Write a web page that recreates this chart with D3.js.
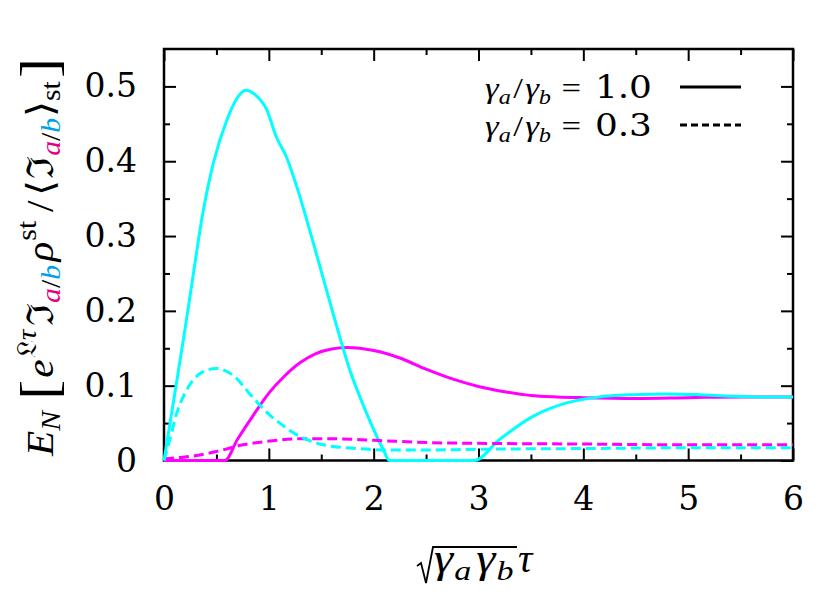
<!DOCTYPE html>
<html>
<head>
<meta charset="utf-8">
<script src="https://cdn.jsdelivr.net/npm/d3@7"></script>
<style>
  body { margin: 0; background: #fff; }
</style>
</head>
<body>
<script>
// Données
const xTicks = [0, 1, 2, 3, 4, 5, 6];
const yTicks = [0, 0.1, 0.2, 0.3, 0.4, 0.5];

// gamma_a/gamma_b = 1.0, sous-système b (cyan)
const bSolidX = [0, 0.1, 0.2, 0.27, 0.37, 0.47, 0.6, 0.7, 0.78, 0.86, 0.98, 1.07, 1.17, 1.28, 1.45, 1.61, 1.77, 1.93, 2.09, 2.15, 2.5, 2.96, 3.2, 3.52, 3.84, 4.15, 4.47, 4.79, 5.1, 5.42, 5.75, 6];
const bSolidY = [0, 0.087, 0.175, 0.24, 0.33, 0.397, 0.455, 0.485, 0.495, 0.49, 0.469, 0.433, 0.405, 0.36, 0.278, 0.198, 0.122, 0.064, 0.015, 0, 0, 0, 0.028, 0.059, 0.077, 0.085, 0.088, 0.089, 0.088, 0.086, 0.085, 0.085];

// gamma_a/gamma_b = 1.0, sous-système a (magenta)
const aSolidX = [0, 0.58, 0.7, 0.85, 1.0, 1.15, 1.3, 1.45, 1.6, 1.75, 2.0, 2.25, 2.5, 2.75, 3.0, 3.25, 3.5, 3.75, 4.0, 4.5, 5, 5.5, 6];
const aSolidY = [0, 0, 0.028, 0.06, 0.09, 0.113, 0.131, 0.143, 0.149, 0.151, 0.147, 0.137, 0.122, 0.109, 0.099, 0.092, 0.087, 0.085, 0.084, 0.083, 0.084, 0.085, 0.085];

// gamma_a/gamma_b = 0.3
const bDashX = [0, 0.05, 0.121, 0.2, 0.28, 0.38, 0.5, 0.6, 0.69, 0.8, 0.914, 1.0, 1.105, 1.2, 1.3, 1.52, 1.835, 2.15, 2.5, 3, 4, 5, 6];
const bDashY = [0, 0.025, 0.063, 0.09, 0.108, 0.119, 0.123, 0.119, 0.11, 0.092, 0.074, 0.062, 0.05, 0.04, 0.032, 0.021, 0.016, 0.014, 0.014, 0.015, 0.016, 0.017, 0.017];
const aDashX = [0, 0.15, 0.28, 0.5, 0.755, 1.01, 1.3, 1.6, 2.0, 2.5, 3, 4, 5, 6];
const aDashY = [0.002, 0.004, 0.006, 0.012, 0.021, 0.026, 0.029, 0.029, 0.027, 0.024, 0.023, 0.022, 0.021, 0.021];

const legendValues = ["1.0", "0.3"];

const cyan = "#00ffff", magenta = "#ff00ff";
const pink = "#e6007e", blue = "#00a0e9";
const serif = "Liberation Serif";
const digits = "DejaVu Serif";

const width = 830, height = 610;
const svg = d3.select("body").append("svg")
    .attr("width", width)
    .attr("height", height);

svg.append("rect").attr("width", width).attr("height", height).attr("fill", "#fff");

const x = d3.scaleLinear().domain([0, 6]).range([164, 793]);
const y = d3.scaleLinear().domain([0, 0.55]).range([460.5, 49]);

// Axes (ticks vers l'intérieur, sur les 4 côtés)
const minorX = d3.range(0.5, 6, 1);
const minorY = d3.range(0.05, 0.55, 0.1);

function styleAxis(g) {
    g.attr("font-family", digits).attr("font-size", 33);
    g.select(".domain").remove();
    g.selectAll(".tick line").attr("stroke", "#000").attr("stroke-width", 2);
    g.selectAll("text").attr("fill", "#000");
}

svg.append("g").attr("transform", `translate(0, ${y(0)})`)
    .call(d3.axisBottom(x).tickValues(xTicks).tickSize(-12).tickPadding(0).tickFormat(d3.format("d")))
    .call(styleAxis)
    .call(g => g.selectAll("text").attr("y", 49).attr("dy", 0));
svg.append("g").attr("transform", `translate(0, ${y(0)})`)
    .call(d3.axisBottom(x).tickValues(minorX).tickSize(-6).tickFormat(""))
    .call(styleAxis);
svg.append("g").attr("transform", `translate(0, ${y(0.55)})`)
    .call(d3.axisTop(x).tickValues(xTicks).tickSize(-12).tickFormat(""))
    .call(styleAxis);
svg.append("g").attr("transform", `translate(0, ${y(0.55)})`)
    .call(d3.axisTop(x).tickValues(minorX).tickSize(-6).tickFormat(""))
    .call(styleAxis);

svg.append("g").attr("transform", `translate(${x(0)}, 0)`)
    .call(d3.axisLeft(y).tickValues(yTicks).tickSize(-12).tickPadding(27)
        .tickFormat(d => d === 0 ? "0" : d3.format(".1f")(d)))
    .call(styleAxis);
svg.append("g").attr("transform", `translate(${x(0)}, 0)`)
    .call(d3.axisLeft(y).tickValues(minorY).tickSize(-6).tickFormat(""))
    .call(styleAxis);
svg.append("g").attr("transform", `translate(${x(6)}, 0)`)
    .call(d3.axisRight(y).tickValues(yTicks).tickSize(-12).tickFormat(""))
    .call(styleAxis);
svg.append("g").attr("transform", `translate(${x(6)}, 0)`)
    .call(d3.axisRight(y).tickValues(minorY).tickSize(-6).tickFormat(""))
    .call(styleAxis);

// Cadre
svg.append("rect")
    .attr("x", x(0)).attr("y", y(0.55))
    .attr("width", x(6) - x(0)).attr("height", y(0) - y(0.55))
    .attr("fill", "none").attr("stroke", "#000").attr("stroke-width", 2.5);

// Courbes, par-dessus le cadre comme dans gnuplot
svg.append("clipPath").attr("id", "clip")
    .append("rect")
    .attr("x", x(0) - 2).attr("y", y(0.55))
    .attr("width", x(6) - x(0) + 2).attr("height", y(0) - y(0.55) + 3);

const line = d3.line()
    .x(d => x(d[0]))
    .y(d => y(d[1]))
    .curve(d3.curveMonotoneX);

const series = [
    { xs: aSolidX, ys: aSolidY, color: magenta, dash: null },
    { xs: bSolidX, ys: bSolidY, color: cyan, dash: null },
    { xs: aDashX, ys: aDashY, color: magenta, dash: "10,5" },
    { xs: bDashX, ys: bDashY, color: cyan, dash: "10,5" }
];

const plot = svg.append("g").attr("clip-path", "url(#clip)");
series.forEach(s => {
    plot.append("path")
        .datum(d3.zip(s.xs, s.ys))
        .attr("fill", "none")
        .attr("stroke", s.color)
        .attr("stroke-width", 3)
        .attr("stroke-dasharray", s.dash)
        .attr("d", line);
});

// Texte mathématique : une suite de morceaux posés les uns après les autres.
// Si "target" est donné, on étire un peu le tout (les glyphes CM sont plus larges).
function mathText(g, runs, anchor, target) {
    const inner = g.append("g");
    let cx = 0;
    runs.forEach(r => {
        cx += r.gap || 0;
        const t = inner.append("text")
            .attr("x", cx)
            .attr("y", r.sh || 0)
            .attr("font-family", r.font || serif)
            .attr("font-size", r.sz)
            .attr("font-style", r.it ? "italic" : "normal")
            .attr("fill", r.fill || "#000")
            .text(r.t);
        cx += t.node().getComputedTextLength() + (r.after || 0);
    });
    const k = target ? target / cx : 1;
    const w = cx * k;
    const shift = anchor === "middle" ? -w / 2 : anchor === "end" ? -w : 0;
    inner.attr("transform", `translate(${shift}, 0) scale(${k}, 1)`);
    return { width: w, shift: shift };
}

// Titre de l'axe Y
const s = 37, sub = 0.72 * s;
const yLab = svg.append("g").attr("transform", "translate(53, 257) rotate(-90)");
mathText(yLab, [
    { t: "E", sz: s, it: true },
    { t: "N", sz: sub, it: true, sh: 0.2 * s },
    { t: "[", sz: 1.45 * s, sh: 0.1 * s, gap: 10 },
    { t: "e", sz: s, it: true, gap: 2 },
    { t: "\u{1D50F}", sz: sub, sh: -0.45 * s, gap: 1 },
    { t: "τ", sz: sub, it: true, sh: -0.45 * s },
    { t: "ℑ", sz: s, gap: 3 },
    { t: "a", sz: sub, it: true, sh: 0.2 * s, fill: pink },
    { t: "/", sz: sub, sh: 0.2 * s },
    { t: "b", sz: sub, it: true, sh: 0.2 * s, fill: blue },
    { t: "ρ", sz: s, it: true, gap: 3 },
    { t: "st", sz: sub, sh: -0.45 * s, gap: 1 },
    { t: "/", sz: s, gap: 8, after: 4 },
    { t: "⟨", sz: s },
    { t: "ℑ", sz: s, gap: 1 },
    { t: "a", sz: sub, it: true, sh: 0.2 * s, fill: pink },
    { t: "/", sz: sub, sh: 0.2 * s },
    { t: "b", sz: sub, it: true, sh: 0.2 * s, fill: blue },
    { t: "⟩", sz: s, gap: 1 },
    { t: "st", sz: sub, sh: 0.2 * s },
    { t: "]", sz: 1.45 * s, sh: 0.1 * s, gap: 3 }
], "middle", 398);

// Titre de l'axe X : racine de gamma_a gamma_b, puis tau
const xs = 40;
const xLab = svg.append("g").attr("transform", "translate(0, 572)");
const rootG = xLab.append("g");
const inner = mathText(rootG, [
    { t: "γ", sz: xs, it: true },
    { t: "a", sz: 0.7 * xs, it: true, sh: 0.2 * xs, gap: 1 },
    { t: "γ", sz: xs, it: true, gap: 4 },
    { t: "b", sz: 0.7 * xs, it: true, sh: 0.2 * xs, gap: 1, after: 2 }
], "start", 82);
const tauG = xLab.append("g");
const tau = mathText(tauG, [{ t: "τ", sz: xs, it: true }], "start");
const radW = 17;
const x0 = 417;
rootG.attr("transform", `translate(${x0 + radW}, 0)`);
tauG.attr("transform", `translate(${x0 + radW + inner.width + 2}, 0)`);
xLab.append("path")
    .attr("d", `M${x0},-6 L${x0 + 4},-9 L${x0 + 9},11 L${x0 + 16},-25 L${x0 + radW + inner.width + 1},-25`)
    .attr("fill", "none").attr("stroke", "#000").attr("stroke-width", 1.8);

// Légende
const ls = 30;
[0, 1].forEach(i => {
    const ly = [87, 125][i];
    const lg = svg.append("g").attr("transform", `translate(652, ${ly + 11})`);
    mathText(lg, [
        { t: "γ", sz: ls, it: true },
        { t: "a", sz: 0.7 * ls, it: true, sh: 0.2 * ls },
        { t: "/", sz: ls, gap: 2 },
        { t: "γ", sz: ls, it: true, gap: 2 },
        { t: "b", sz: 0.7 * ls, it: true, sh: 0.2 * ls },
        { t: "=", sz: ls, gap: 9 },
        { t: legendValues[i], sz: 31, font: digits, gap: 12 }
    ], "end", 167);
    svg.append("line")
        .attr("x1", 680).attr("x2", 741)
        .attr("y1", ly).attr("y2", ly)
        .attr("stroke", "#000").attr("stroke-width", 3)
        .attr("stroke-dasharray", i === 1 ? "7,4" : null);
});
</script>
</body>
</html>
